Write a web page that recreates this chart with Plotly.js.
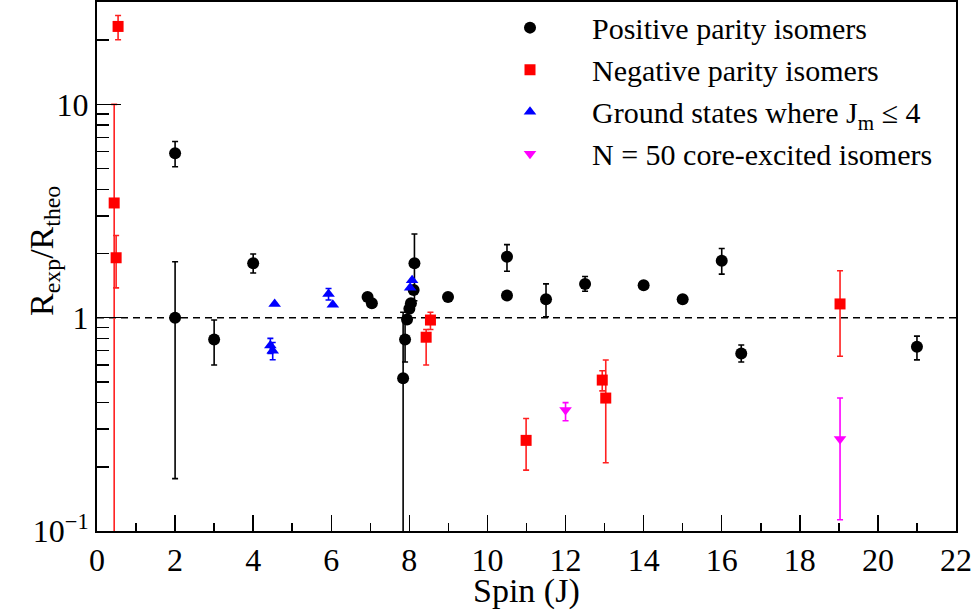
<!DOCTYPE html>
<html>
<head>
<meta charset="utf-8">
<script src="https://cdn.plot.ly/plotly-3.0.1.min.js"></script>
<style>
  html, body { margin: 0; padding: 0; background: #fff; }
  #chart { width: 976px; height: 613px; }
</style>
</head>
<body>
<div id="chart"></div>
<script>
// Positive parity isomers: spin, ratio, upper / lower uncertainty
const posSpin  = [2.0, 2.0, 3.0, 4.0, 6.93, 7.04, 7.84, 7.89, 7.94, 8.00, 8.04, 8.11, 8.13, 8.99, 10.5, 10.5, 11.5, 12.5, 14.0, 15.0, 16.0, 16.5, 21.0];
const posRatio = [5.9, 1.0, 0.79, 1.80, 1.25, 1.17, 0.52, 0.79, 0.98, 1.10, 1.17, 1.35, 1.80, 1.25, 1.93, 1.27, 1.22, 1.44, 1.42, 1.22, 1.85, 0.68, 0.73];
const posErrUp = [0.8, 0.83, 0.185, 0.19, 0, 0, 0.54, 0.17, 0, 0, 0, 0, 0.67, 0, 0.27, 0, 0.22, 0.12, 0, 0, 0.26, 0.065, 0.09];
const posErrLo = [0.8, 0.824, 0.19, 0.18, 0, 0, 0.51, 0.17, 0, 0, 0, 0, 0.6, 0, 0.28, 0, 0.21, 0.11, 0, 0, 0.25, 0.06, 0.096];

// Negative parity isomers
const negSpin  = [0.44, 0.49, 0.54, 8.43, 8.54, 10.99, 12.94, 13.03, 19.03];
const negRatio = [3.45, 1.91, 23.2, 0.81, 0.975, 0.266, 0.51, 0.42, 1.16];
const negErrUp = [6.55, 0.52, 2.9, 0.07, 0.085, 0.071, 0.054, 0.213, 0.50];
const negErrLo = [3.44, 0.53, 3.1, 0.21, 0.095, 0.073, 0.056, 0.211, 0.50];

// Ground states where J_m <= 4
const gsSpin  = [4.44, 4.50, 4.55, 5.93, 6.04, 8.02, 8.07];
const gsRatio = [0.74, 0.70, 1.16, 1.29, 1.15, 1.38, 1.50];
const gsErrUp = [0.06, 0.065, 0, 0.08, 0, 0, 0];
const gsErrLo = [0.06, 0.065, 0, 0.08, 0, 0, 0];

// N = 50 core-excited isomers
const coreSpin  = [12.0, 19.03];
const coreRatio = [0.369, 0.27];
const coreErrUp = [0.031, 0.15];
const coreErrLo = [0.04, 0.157];

// Axis tick labels
const xTickVals = [0, 2, 4, 6, 8, 10, 12, 14, 16, 18, 20, 22];
const yTickVals = [0.1, 1, 10];
const yTickText = ['10<sup>\u22121</sup>', '1', '10'];
const yMinorVals = [0.2, 0.3, 0.4, 0.5, 0.6, 0.7, 0.8, 0.9, 2, 3, 4, 5, 6, 7, 8, 9, 20, 30];

const FONT = 'Liberation Serif, Times New Roman, serif';

function series(name, x, y, up, lo, symbol, color, errColor, size) {
  return {
    type: 'scatter', mode: 'markers', name: name, x: x, y: y,
    marker: { symbol: symbol, color: color, size: size, line: { width: 0 } },
    error_y: { type: 'data', symmetric: false, array: up, arrayminus: lo,
               color: errColor, thickness: 1.6, width: 3 }
  };
}

const traces = [
  series('Positive parity isomers', posSpin, posRatio, posErrUp, posErrLo, 'circle', '#000000', '#000000', 12),
  series('Negative parity isomers', negSpin, negRatio, negErrUp, negErrLo, 'square', '#ff0000', '#ff2020', 11),
  series('Ground states where J<sub>m</sub> \u2264 4', gsSpin, gsRatio, gsErrUp, gsErrLo, 'triangle-up', '#0000ff', '#0000ff', 11),
  series('N = 50 core-excited isomers', coreSpin, coreRatio, coreErrUp, coreErrLo, 'triangle-down', '#ff00ff', '#ff00ff', 11)
];

const layout = {
  width: 976, height: 613,
  margin: { l: 97, r: 20, t: 2, b: 82 },
  paper_bgcolor: '#ffffff', plot_bgcolor: '#ffffff',
  font: { family: FONT, color: '#000000', size: 32 },
  showlegend: true,
  legend: {
    x: 0.4319, y: 1.0007, xanchor: 'left', yanchor: 'top',
    bgcolor: 'rgba(0,0,0,0)', borderwidth: 0,
    font: { family: FONT, size: 30, color: '#000' },
    itemwidth: 114
  },
  xaxis: {
    type: 'linear', range: [0, 22],
    tickmode: 'array', tickvals: xTickVals,
    ticks: 'inside', ticklen: 16, tickwidth: 1.5, tickcolor: '#000',
    minor: { dtick: 1, ticks: 'inside', ticklen: 8, tickwidth: 1.5, tickcolor: '#000' },
    showline: true, linewidth: 2, linecolor: '#000', mirror: true,
    showgrid: false, zeroline: false,
    tickfont: { family: FONT, size: 32 }
  },
  yaxis: {
    type: 'log', range: [-1, 1.48],
    tickmode: 'array', tickvals: yTickVals, ticktext: yTickText,
    ticks: 'inside', ticklen: 24, tickwidth: 1.5, tickcolor: '#000',
    minor: { tickmode: 'array', tickvals: yMinorVals, ticks: 'inside', ticklen: 12, tickwidth: 1.5, tickcolor: '#000' },
    showline: true, linewidth: 2, linecolor: '#000', mirror: true,
    showgrid: false, zeroline: false,
    tickfont: { family: FONT, size: 32 }
  },
  shapes: [
    { type: 'line', xref: 'paper', x0: 0, x1: 1, yref: 'y', y0: 1, y1: 1,
      line: { color: '#000', width: 1.5, dash: '7px,5px' }, layer: 'below' }
  ],
  annotations: [
    { text: 'Spin (J)', xref: 'paper', yref: 'paper', x: 0.5, y: -0.113,
      xanchor: 'center', yanchor: 'middle', showarrow: false,
      font: { family: FONT, size: 34 } },
    { text: 'R<sub>exp</sub>/R<sub>theo</sub>', xref: 'paper', yref: 'paper',
      x: -0.062, y: 0.529, xanchor: 'center', yanchor: 'middle', textangle: -90,
      showarrow: false, font: { family: FONT, size: 34 } }
  ]
};

Plotly.newPlot('chart', traces, layout, { staticPlot: true, displayModeBar: false });
</script>
</body>
</html>
